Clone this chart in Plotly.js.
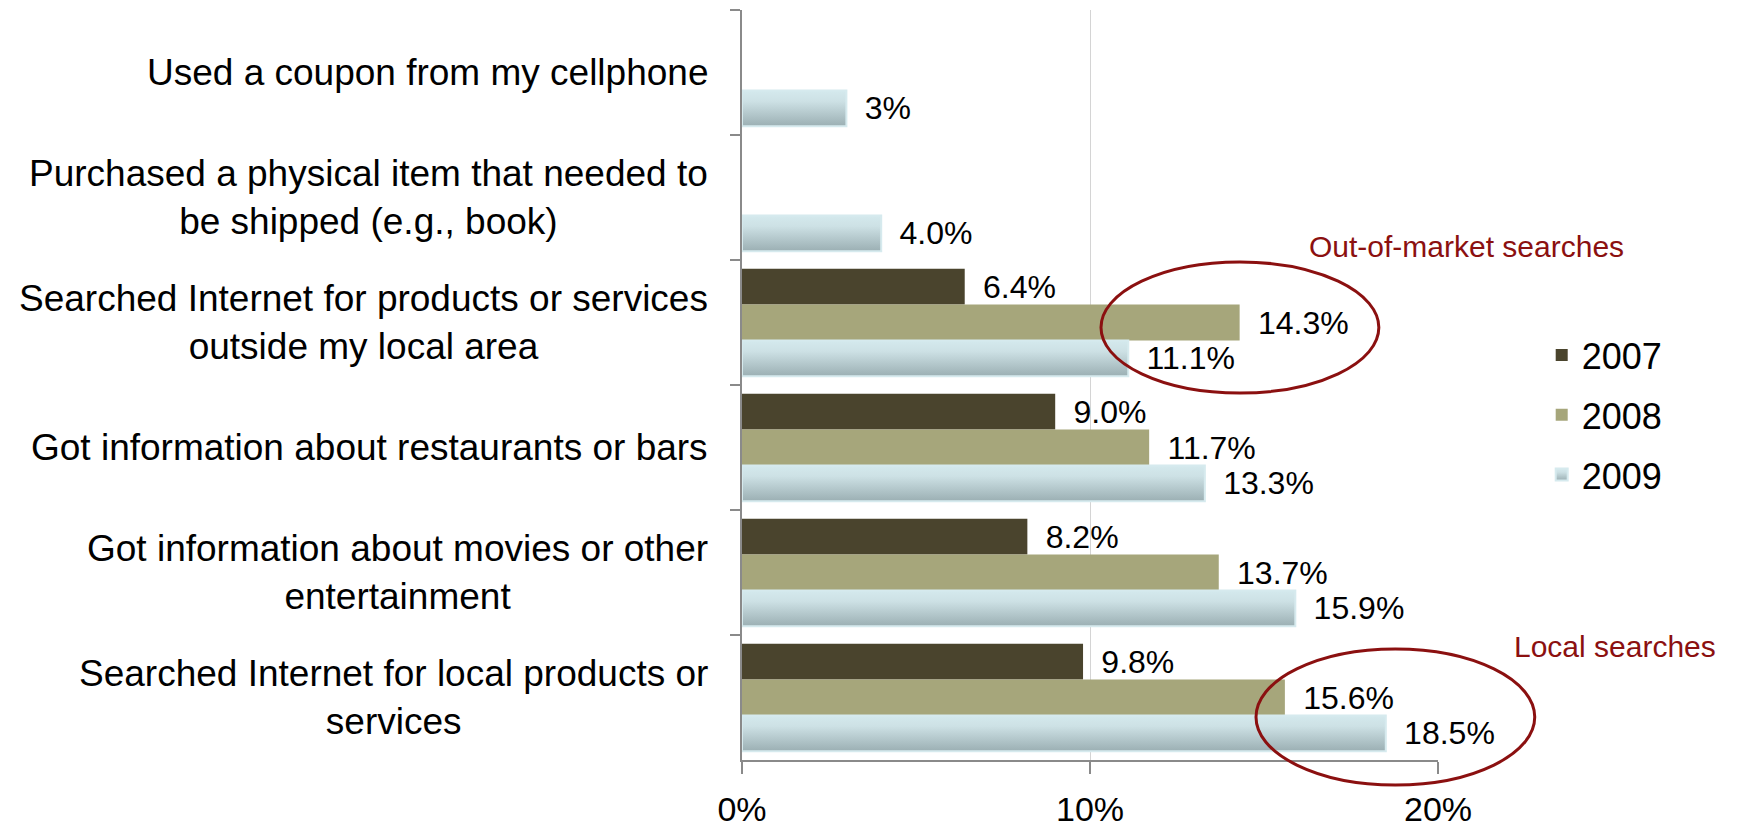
<!DOCTYPE html>
<html>
<head>
<meta charset="utf-8">
<script src="https://cdn.plot.ly/plotly-3.0.1.min.js"></script>
<style>
  html, body { margin: 0; padding: 0; background: #ffffff; }
  #chart { width: 1746px; height: 830px; }
</style>
</head>
<body>
<div id="chart"></div>
<script>
// ---- data ----
const categories = [
  "Used a coupon from my cellphone",
  "Purchased a physical item that needed to<br>be shipped (e.g., book)",
  "Searched Internet for products or services<br>outside my local area",
  "Got information about restaurants or bars",
  "Got information about movies or other<br>entertainment",
  "Searched Internet for local products or<br>services"
];
const years = ["2007", "2008", "2009"];
const values2007 = [null, null, 6.4, 9.0, 8.2, 9.8];
const values2008 = [null, null, 14.3, 11.7, 13.7, 15.6];
const values2009 = [3.0, 4.0, 11.1, 13.3, 15.9, 18.5];
const labels2007 = ["", "", "6.4%", "9.0%", "8.2%", "9.8%"];
const labels2008 = ["", "", "14.3%", "11.7%", "13.7%", "15.6%"];
const labels2009 = ["3%", "4.0%", "11.1%", "13.3%", "15.9%", "18.5%"];
const xTicks = [0, 10, 20];
const xTickText = ["0%", "10%", "20%"];
const callouts = ["Out-of-market searches", "Local searches"];

// ---- styling ----
const FONT = "Liberation Sans, Arial, Helvetica, sans-serif";
const colors = ["#4a442d", "#a6a67b", "#bcd0d4"];
const PAD = "\u00a0\u2009";

function barTrace(name, vals, labels, color, idx) {
  return {
    type: "bar",
    orientation: "h",
    name: name,
    legendgroup: "g" + idx,
    y: categories,
    x: vals,
    text: labels.map(t => t ? PAD + t : ""),
    textposition: "outside",
    textfont: { family: FONT, size: 32, color: "#000000" },
    constraintext: "none",
    cliponaxis: false,
    hoverinfo: "skip",
    marker: {
      color: color,
      line: idx === 2 ? { color: "#d6eaee", width: 2 } : { width: 0 }
    }
  };
}

const data = [
  barTrace(years[0], values2007, labels2007, colors[0], 0),
  barTrace(years[1], values2008, labels2008, colors[1], 1),
  barTrace(years[2], values2009, labels2009, colors[2], 2)
];

const annotations = categories.map(c => ({
  xref: "x", yref: "y", x: 0, y: c,
  xanchor: "right", yanchor: "middle", xshift: -32,
  align: "center", showarrow: false,
  text: c,
  font: { family: FONT, size: 37, color: "#000000" }
}));
annotations.push({
  xref: "paper", yref: "paper", x: 0.812, y: 0.684,
  xanchor: "left", yanchor: "middle", showarrow: false,
  text: callouts[0], font: { family: FONT, size: 30, color: "#8b1010" }
});
annotations.push({
  xref: "paper", yref: "paper", x: 1.106, y: 0.151,
  xanchor: "left", yanchor: "middle", showarrow: false,
  text: callouts[1], font: { family: FONT, size: 30, color: "#8b1010" }
});

const layout = {
  width: 1746, height: 830,
  margin: { l: 742, r: 308, t: 10, b: 70 },
  paper_bgcolor: "#ffffff", plot_bgcolor: "#ffffff",
  barmode: "group", bargap: 0.14, bargroupgap: 0,
  showlegend: true,
  legend: {
    x: 1.149, xanchor: "left", y: 0.58, yanchor: "top",
    traceorder: "grouped", tracegroupgap: 10,
    font: { family: FONT, size: 36, color: "#000000" },
    bgcolor: "rgba(0,0,0,0)"
  },
  xaxis: {
    range: [0, 20], tickvals: xTicks, ticktext: xTickText,
    showgrid: true, gridcolor: "#d4d4d4", gridwidth: 1,
    zeroline: false, showline: true, linecolor: "#8a8a8a", linewidth: 2,
    ticks: "outside", ticklen: 12, tickcolor: "#8a8a8a", tickwidth: 2,
    tickfont: { family: FONT, size: 34, color: "#000000" },
    ticklabelstandoff: 6,
    fixedrange: true
  },
  yaxis: {
    type: "category", categoryorder: "array", categoryarray: categories,
    autorange: "reversed",
    showticklabels: false, showgrid: false, zeroline: false,
    showline: true, linecolor: "#8a8a8a", linewidth: 2,
    ticks: "outside", tickson: "boundaries", ticklen: 10,
    tickcolor: "#8a8a8a", tickwidth: 2,
    fixedrange: true
  },
  shapes: [
    { type: "circle", xref: "paper", yref: "paper",
      x0: 0.5158, x1: 0.915, y0: 0.4893, y1: 0.664,
      line: { color: "#8b1010", width: 3 } },
    { type: "circle", xref: "paper", yref: "paper",
      x0: 0.7385, x1: 1.139, y0: -0.0333, y1: 0.148,
      line: { color: "#8b1010", width: 3 } }
  ],
  annotations: annotations
};

Plotly.newPlot("chart", data, layout, { displayModeBar: false, staticPlot: true }).then(gd => {
  // vertical gradient for the 2009 bars
  const svgNS = "http://www.w3.org/2000/svg";
  const svg = gd.querySelector(".main-svg");
  let defs = svg.querySelector("defs");
  if (!defs) { defs = document.createElementNS(svgNS, "defs"); svg.insertBefore(defs, svg.firstChild); }
  const grad = document.createElementNS(svgNS, "linearGradient");
  grad.setAttribute("id", "grad2009");
  grad.setAttribute("x1", "0"); grad.setAttribute("y1", "0");
  grad.setAttribute("x2", "0"); grad.setAttribute("y2", "1");
  [["0", "#d4e9ed"], ["0.3", "#cde1e5"], ["1", "#9bafb3"]].forEach(([o, c]) => {
    const s = document.createElementNS(svgNS, "stop");
    s.setAttribute("offset", o); s.setAttribute("stop-color", c);
    grad.appendChild(s);
  });
  defs.appendChild(grad);
  const traces = gd.querySelectorAll(".barlayer .trace");
  if (traces[2]) {
    traces[2].querySelectorAll(".point path").forEach(p => { p.style.fill = "url(#grad2009)"; });
  }
  const legItems = gd.querySelectorAll(".legend .traces");
  if (legItems[2]) {
    legItems[2].querySelectorAll(".legendpoints path").forEach(p => { p.style.fill = "url(#grad2009)"; });
  }
});
</script>
</body>
</html>
